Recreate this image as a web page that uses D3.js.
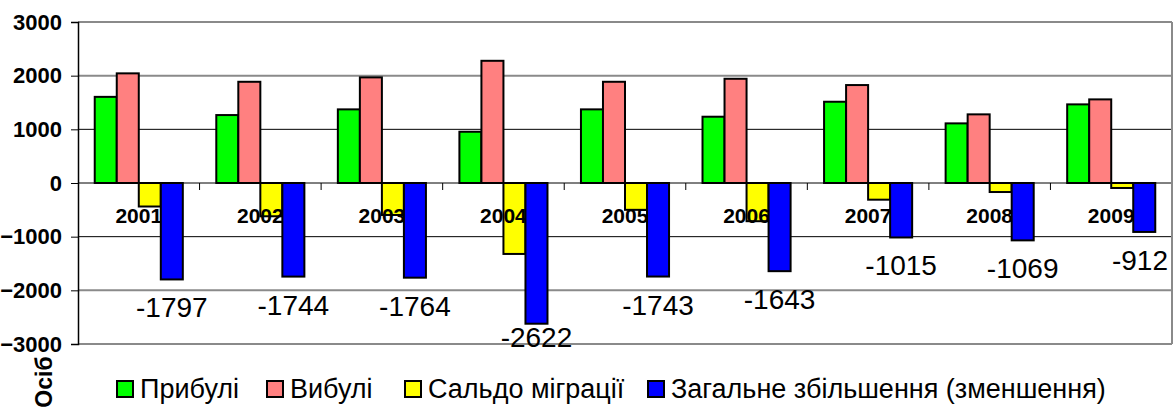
<!DOCTYPE html>
<html>
<head>
<meta charset="utf-8">
<script src="https://cdn.jsdelivr.net/npm/d3@7"></script>
<style>
  body { margin: 0; background: #fff; }
  text { font-family: "Liberation Sans", Arial, sans-serif; }
</style>
</head>
<body>
<div id="chart"></div>
<script>
// data
var years = ["2001", "2002", "2003", "2004", "2005", "2006", "2007", "2008", "2009"];
var seriesNames = ["Прибулі", "Вибулі", "Сальдо міграції", "Загальне збільшення (зменшення)"];
var arrived = [1605, 1266, 1372, 955, 1372, 1235, 1514, 1111, 1465];
var departed = [2043, 1886, 1968, 2277, 1886, 1942, 1825, 1279, 1558];
var migration = [-438, -620, -596, -1322, -500, -712, -311, -168, -93];
var total = [-1797, -1744, -1764, -2622, -1743, -1643, -1015, -1069, -912];
var yTicks = [3000, 2000, 1000, 0, -1000, -2000, -3000];
var colors = ["#00ff00", "#ff8080", "#ffff00", "#0000ff"];

var svgWidth = 1175;
var svgHeight = 408;

var margin = { top: 22, right: 3, bottom: 64, left: 78 };
var width = svgWidth - margin.left - margin.right;
var height = svgHeight - margin.top - margin.bottom;

var svg = d3.select("#chart")
  .append("svg")
  .attr("width", svgWidth)
  .attr("height", svgHeight);

var chartGroup = svg.append("g")
  .attr("transform", `translate(${margin.left},${margin.top})`);

// rows per year
var rows = years.map(function (y, i) {
  return { year: y, values: [arrived[i], departed[i], migration[i], total[i]] };
});

// scales
var x0 = d3.scaleBand()
  .domain(years)
  .range([0, width]);

var x1 = d3.scaleBand()
  .domain(d3.range(4))
  .range([0, x0.bandwidth()])
  .paddingOuter(0.76);

var y = d3.scaleLinear()
  .domain([-3000, 3000])
  .range([height, 0]);

// gridlines
chartGroup.selectAll(".grid")
  .data(yTicks)
  .enter()
  .append("line")
  .attr("x1", 0)
  .attr("x2", width)
  .attr("y1", d => y(d))
  .attr("y2", d => y(d))
  .attr("stroke", d => (Math.abs(d) >= 2000 ? "#8a8a8a" : "#000"))
  .attr("stroke-width", d => (Math.abs(d) >= 2000 ? 2 : 1));

// right border
chartGroup.append("line")
  .attr("x1", width).attr("x2", width)
  .attr("y1", 0).attr("y2", height)
  .attr("stroke", "#8a8a8a")
  .attr("stroke-width", 2);

// left axis
var leftAxis = d3.axisLeft(y)
  .tickValues(yTicks)
  .tickSize(7)
  .tickPadding(9)
  .tickFormat(d3.format("d"));

var yAxis = chartGroup.append("g").call(leftAxis);
yAxis.select(".domain").attr("stroke", "#000").attr("stroke-width", 1.5);
yAxis.selectAll(".tick line").attr("stroke", "#000");
yAxis.selectAll("text")
  .attr("fill", "#000")
  .style("font-size", "22px")
  .style("font-weight", "bold")
  .style("font-family", "Liberation Sans, Arial, sans-serif");

// category ticks on zero line
chartGroup.selectAll(".xtick")
  .data(years.slice(1))
  .enter()
  .append("line")
  .attr("x1", d => x0(d))
  .attr("x2", d => x0(d))
  .attr("y1", y(0))
  .attr("y2", y(0) + 7)
  .attr("stroke", "#000");

var groups = chartGroup.selectAll(".year")
  .data(rows)
  .enter()
  .append("g")
  .attr("transform", d => `translate(${x0(d.year)},0)`);

// first three series
groups.selectAll(".bar")
  .data(d => d.values.slice(0, 3).map((v, i) => ({ i: i, v: v })))
  .enter()
  .append("rect")
  .attr("x", d => x1(d.i))
  .attr("width", x1.bandwidth())
  .attr("y", d => y(Math.max(0, d.v)))
  .attr("height", d => Math.abs(y(d.v) - y(0)))
  .attr("fill", d => colors[d.i])
  .attr("stroke", "#000")
  .attr("stroke-width", 2);

// year labels
groups.append("text")
  .attr("x", x0.bandwidth() / 2)
  .attr("y", y(0) + 40)
  .attr("text-anchor", "middle")
  .style("font-size", "21px")
  .style("font-weight", "bold")
  .text(d => d.year);

// total series on top
groups.append("rect")
  .attr("x", x1(3))
  .attr("width", x1.bandwidth())
  .attr("y", y(0))
  .attr("height", d => y(d.values[3]) - y(0))
  .attr("fill", colors[3])
  .attr("stroke", "#000")
  .attr("stroke-width", 2);

// value labels for total
groups.append("text")
  .attr("x", x1(3) + x1.bandwidth() / 2)
  .attr("y", d => Math.min(y(d.values[3]) + 38, height + 3))
  .attr("text-anchor", "middle")
  .style("font-size", "28px")
  .text(d => d.values[3])
  .each(function (d) {
    // keep the label inside the chart
    var w = this.getComputedTextLength();
    var cx = x0(d.year) + x1(3) + x1.bandwidth() / 2;
    var over = cx + w / 2 - (width - 4);
    if (over > 0) d3.select(this).attr("x", x1(3) + x1.bandwidth() / 2 - over);
  });

// y axis title
svg.append("text")
  .attr("transform", "translate(52,382) rotate(-90)")
  .attr("text-anchor", "middle")
  .style("font-size", "23px")
  .style("font-weight", "bold")
  .text("Осіб");

// legend
var legendX = [117, 267, 405, 648];
var legend = svg.selectAll(".legend")
  .data(seriesNames)
  .enter()
  .append("g")
  .attr("transform", (d, i) => `translate(${legendX[i]},381)`);

legend.append("rect")
  .attr("width", 16)
  .attr("height", 16)
  .attr("fill", (d, i) => colors[i])
  .attr("stroke", "#000")
  .attr("stroke-width", 2);

legend.append("text")
  .attr("x", 23)
  .attr("y", 17)
  .style("font-size", "27px")
  .text(d => d);
</script>
</body>
</html>
